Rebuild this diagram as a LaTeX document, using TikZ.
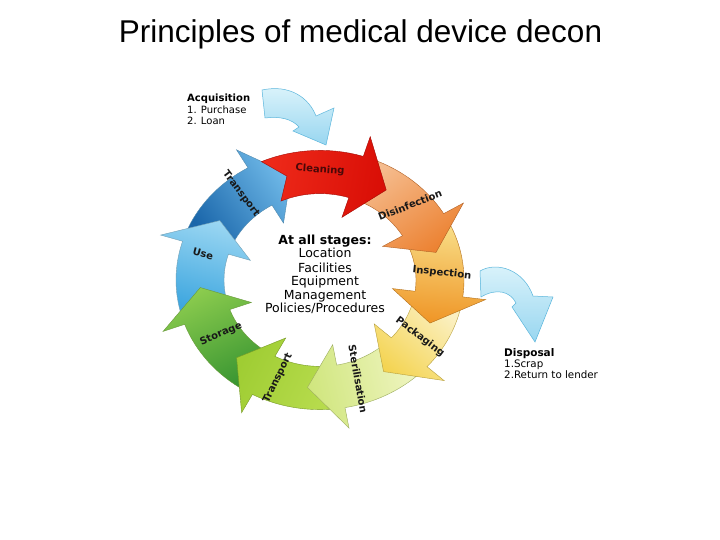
\documentclass[tikz,border=0pt]{standalone}
\usepackage{fontspec}
\setmainfont{Liberation Sans}
\newfontfamily\dv{DejaVu Sans}
\definecolor{cyantop}{HTML}{DDF4FB}
\definecolor{cyanbot}{HTML}{98D6F0}
\definecolor{cyanedge}{HTML}{5BB6DC}
\definecolor{cleantxt}{HTML}{4A0808}
\newcommand\ringseg[4]{%
  \pgfmathsetmacro\rsA{#1+10}%
  \pgfmathsetmacro\rsB{#1+2}%
  \pgfmathsetmacro\rsC{#2+16}%
  \pgfmathsetmacro\rsD{(#1+#2)/2}%
  \definecolor{rstail}{HTML}{#3}%
  \definecolor{rshead}{HTML}{#4}%
  \path[draw=rshead!75!black, line width=0.4pt, top color=rstail, bottom color=rshead, shading angle=\rsD]
    plot[domain=\rsA:\rsC, samples=16] (\x:144) -- (\rsC:167) -- (#2:120) -- (\rsC:73)
    -- plot[domain=\rsC:\rsA, samples=16] (\x:96) -- (\rsB:120) -- cycle;
}
\begin{document}
\begin{tikzpicture}[x=1pt,y=1pt,
  lab/.style={font=\dv\bfseries\fontsize{10}{11}\selectfont, text=black!90, inner sep=0pt},
  ctr/.style={font=\dv\fontsize{12.5}{14}\selectfont, anchor=base, inner sep=0pt},
  side/.style={font=\dv\fontsize{10}{12}\selectfont, anchor=base west, inner sep=0pt},
  cyanarrow/.style={draw=cyanedge, line width=0.5pt, top color=cyantop, bottom color=cyanbot},
]
\fill[white] (0,0) rectangle (720,-540);
\useasboundingbox (0,0) rectangle (720,-540);

\node[font=\fontsize{31.5}{36}\selectfont, anchor=base, inner sep=0pt] (title) at (360.5,-43) {Principles of medical device decon};

% ring
\begin{scope}[shift={(320,-280)}, yscale=0.9]
\ringseg{-213.4}{-256}{1A66AA}{6FB9E8}
\ringseg{-176}{-213.4}{3DA6DF}{9AD6F2}
\ringseg{-134}{-176}{3A9632}{8CCC4E}
\ringseg{-96}{-134}{B6DB4C}{9FCD33}
\ringseg{-58}{-96}{EEF4BE}{D0E67E}
\ringseg{-23.5}{-58}{FBF0C2}{F4D452}
\ringseg{14.8}{-23.5}{F8DD86}{EF9526}
\ringseg{56.5}{14.8}{F5BC8E}{EC8232}
\ringseg{104}{56.5}{EE2A1A}{D90E06}
\end{scope}

% acquisition arrow
\path[cyanarrow] (262,-90) .. controls (290,-84) and (309,-98) .. (316,-116)
  -- (334,-108) -- (326,-145) -- (293,-131) -- (299,-127)
  .. controls (292,-119) and (280,-116) .. (265,-118) -- cycle;
% disposal arrow
\path[cyanarrow] (480,-271) .. controls (497,-261) and (524,-270) .. (533,-296)
  -- (553,-297) -- (535,-342) -- (512,-307) -- (516,-303)
  .. controls (510,-291) and (496,-288) .. (481,-297) -- cycle;

% segment labels
\node[lab, text=cleantxt, rotate=-4] (lclean) at (320,-170) {Cleaning};
\node[lab, rotate=21] (ldis) at (410,-205) {Disinfection};
\node[lab, rotate=-6] (linsp) at (442,-273) {Inspection};
\node[lab, rotate=-37] (lpack) at (420,-337) {Packaging};
\node[lab, rotate=-80] (lster) at (358,-379) {Sterilisation};
\node[lab, rotate=64] (ltrg) at (278,-378) {Transport};
\node[lab, rotate=23] (lstor) at (221,-334) {Storage};
\node[lab, rotate=-15] (luse) at (203,-254) {Use};
\node[lab, rotate=-53] (ltrb) at (241,-194) {Transport};

% centre text
\node[ctr, font=\dv\bfseries\fontsize{12.5}{14}\selectfont] (c0) at (325,-244.5) {At all stages:};
\node[ctr] (c1) at (325,-258) {Location};
\node[ctr] (c2) at (325,-272) {Facilities};
\node[ctr] (c3) at (325,-285.5) {Equipment};
\node[ctr] (c4) at (325,-299) {Management};
\node[ctr] (c5) at (325,-312.5) {Policies/Procedures};

% acquisition text
\node[side, font=\dv\bfseries\fontsize{10}{12}\selectfont] (a0) at (187,-102) {Acquisition};
\node[side] (a1) at (187,-114) {1. Purchase};
\node[side] (a2) at (187,-125) {2. Loan};

% disposal text
\node[side, font=\dv\bfseries\fontsize{10.5}{12}\selectfont] (d0) at (504,-356) {Disposal};
\node[side, font=\dv\fontsize{10.3}{12}\selectfont] (d1) at (504,-367) {1.Scrap};
\node[side, font=\dv\fontsize{10.3}{12}\selectfont] (d2) at (504,-378) {2.Return to lender};
\end{tikzpicture}
\end{document}
